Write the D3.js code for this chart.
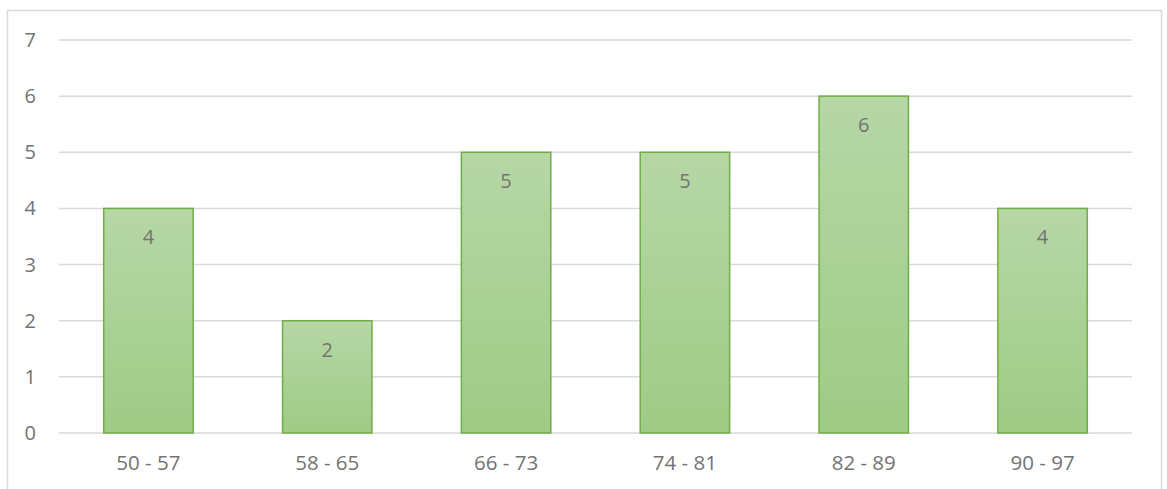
<!doctype html>
<html lang="en">
  <head>
    <meta charset="utf-8">
    <script src="https://cdn.jsdelivr.net/npm/d3@7"></script>
    <style>
      body {margin:0; background:#fff}
      svg {display:block}
      text {font-family:"Open Sans", "Noto Sans", sans-serif; fill:#737373}
    </style>
    <title>Frequency chart</title>
  </head>
  <body>
    <script>
      // data
      let categories = ["50 - 57", "58 - 65", "66 - 73", "74 - 81", "82 - 89", "90 - 97"];
      let counts = [4, 2, 5, 5, 6, 4];
      let yTicks = [0, 1, 2, 3, 4, 5, 6, 7];

      let W = 1167, H = 489;
      let margin = {top:40, left:59, right:35, bottom:56};
      let w = W - margin.left - margin.right;
      let h = H - margin.top - margin.bottom;

      let svg = d3.select("body").append("svg")
        .attr("width", W)
        .attr("height", H);

      // chart border
      svg.append("rect")
        .attr("x", 7.5).attr("y", 10.5)
        .attr("width", 1154).attr("height", 490)
        .attr("fill", "none")
        .attr("stroke", "#d9d9d9")
        .attr("stroke-width", 1.5);

      let grad = svg.append("defs").append("linearGradient")
        .attr("id", "barGrad")
        .attr("x1", 0).attr("y1", 0).attr("x2", 0).attr("y2", 1);
      grad.append("stop").attr("offset", "0%").attr("stop-color", "#b6d7a6");
      grad.append("stop").attr("offset", "100%").attr("stop-color", "#9ecb85");

      let x = d3.scaleBand()
        .domain(categories)
        .range([0, w])
        .paddingInner(0.5)
        .paddingOuter(0.25);

      let y = d3.scaleLinear()
        .domain([0, 7])
        .range([h, 0]);

      let g = svg.append("g")
        .attr("transform", "translate(" + margin.left + "," + margin.top + ")");

      // gridlines
      g.selectAll(".grid")
        .data(yTicks)
        .enter()
        .append("line")
        .attr("x1", 0).attr("x2", w)
        .attr("y1", d => y(d)).attr("y2", d => y(d))
        .attr("stroke", "#d9d9d9")
        .attr("stroke-width", 1.5);

      // y tick labels
      g.selectAll(".ylab")
        .data(yTicks)
        .enter()
        .append("text")
        .attr("x", -23)
        .attr("y", d => y(d))
        .attr("dy", "0.35em")
        .attr("text-anchor", "end")
        .attr("font-size", "20px")
        .text(d => d);

      // bars
      g.selectAll(".bar")
        .data(counts)
        .enter()
        .append("rect")
        .attr("x", (d, i) => x(categories[i]))
        .attr("y", d => y(d))
        .attr("width", x.bandwidth())
        .attr("height", d => h - y(d))
        .attr("fill", "url(#barGrad)")
        .attr("stroke", "#70ad47")
        .attr("stroke-width", 1.5);

      // value labels
      g.selectAll(".val")
        .data(counts)
        .enter()
        .append("text")
        .attr("x", (d, i) => x(categories[i]) + x.bandwidth() / 2)
        .attr("y", d => y(d) + 29)
        .attr("dy", "0.35em")
        .attr("text-anchor", "middle")
        .attr("font-size", "20px")
        .text(d => d);

      // category labels
      g.selectAll(".xlab")
        .data(categories)
        .enter()
        .append("text")
        .attr("x", d => x(d) + x.bandwidth() / 2)
        .attr("y", h + 30)
        .attr("dy", "0.35em")
        .attr("text-anchor", "middle")
        .attr("font-size", "20.5px")
        .text(d => d);
    </script>
  </body>
</html>
